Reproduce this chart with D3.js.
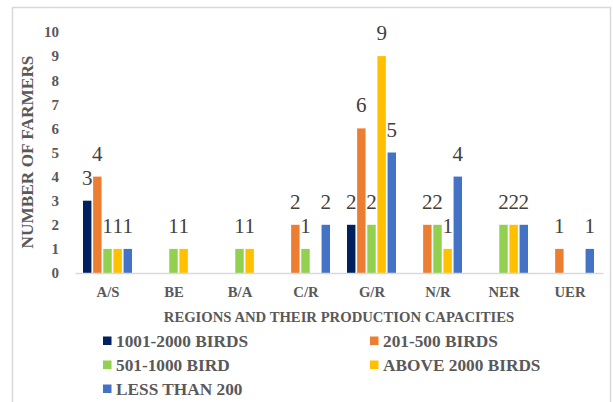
<!DOCTYPE html>
<html>
<head>
<meta charset="utf-8">
<script src="https://cdn.jsdelivr.net/npm/d3@7"></script>
<style>
  html, body { margin: 0; padding: 0; background: #fff; }
  svg { display: block; }
  svg text { font-family: "Liberation Serif", Tinos, "Times New Roman", "DejaVu Serif", "Noto Serif", serif; }
</style>
</head>
<body>
<svg id="chart" width="613" height="402"></svg>
<script>
// Regions (x axis) and production-capacity series
const categories = ["A/S", "BE", "B/A", "C/R", "G/R", "N/R", "NER", "UER"];
const seriesNames = ["1001-2000 BIRDS", "201-500 BIRDS", "501-1000 BIRD", "ABOVE 2000 BIRDS", "LESS THAN 200"];
const seriesColors = ["#002060", "#ED7D31", "#92D050", "#FFC000", "#4472C4"];

// Number of farmers per region; null = no farmers in that band
const birds1001to2000 = [3, null, null, null, 2, null, null, null];
const birds201to500   = [4, null, null, 2, 6, 2, null, 1];
const birds501to1000  = [1, 1, 1, 1, 2, 2, 2, null];
const birdsAbove2000  = [1, 1, 1, null, 9, 1, 2, null];
const birdsUnder200   = [1, null, null, 2, 5, 4, 2, 1];

const yTicks = [0, 1, 2, 3, 4, 5, 6, 7, 8, 9, 10];

const seriesValues = [birds1001to2000, birds201to500, birds501to1000, birdsAbove2000, birdsUnder200];

const svg = d3.select("#chart");

// Outer chart frame
svg.append("rect")
  .attr("x", 12.5).attr("y", 7.5)
  .attr("width", 598).attr("height", 420)
  .attr("fill", "none").attr("stroke", "#d9d9d9").attr("stroke-width", 1.5);

const plot = { left: 75, right: 603, top: 32, bottom: 273 };

const x0 = d3.scaleBand().domain(categories).range([plot.left, plot.right]).padding(0);
const x1 = d3.scaleBand().domain(d3.range(seriesNames.length)).range([8, 57]).paddingInner(0.17).paddingOuter(0);
const y = d3.scaleLinear().domain([0, 10]).range([plot.bottom, plot.top]);

function styleText(sel, size, bold, color) {
  sel.style("font-family", null)
    .attr("font-family", null)
    .attr("font-weight", bold ? "bold" : "normal")
    .attr("font-size", size)
    .attr("fill", color);
}

// Y axis tick labels (no line, no tick marks)
const yAxis = d3.axisLeft(y).tickValues(yTicks).tickSize(0).tickPadding(0).tickFormat(d3.format("d"));
const gy = svg.append("g").attr("transform", `translate(${plot.left - 16},0)`).call(yAxis);
gy.attr("font-family", null);
gy.select(".domain").remove();
styleText(gy.selectAll("text"), "15px", true, "#595959");

// Bars
const groups = svg.append("g").selectAll("g")
  .data(categories)
  .join("g")
  .attr("transform", d => `translate(${x0(d)},0)`);

const cells = groups.selectAll("g.cell")
  .data((c, ci) => seriesValues.map((vals, si) => ({ si, v: vals[ci] })).filter(d => d.v != null))
  .join("g").attr("class", "cell");

cells.append("rect")
  .attr("x", d => x1(d.si))
  .attr("width", x1.bandwidth())
  .attr("y", d => y(d.v))
  .attr("height", d => y(0) - y(d.v))
  .attr("fill", d => seriesColors[d.si]);

// Value labels above each bar
const valueLabels = cells.append("text")
  .attr("x", d => x1(d.si) + x1.bandwidth() / 2)
  .attr("y", d => y(d.v) - 16)
  .attr("text-anchor", "middle")
  .text(d => d.v);
styleText(valueLabels, "21px", false, "#404040");

// X axis baseline and category labels
const xAxis = d3.axisBottom(x0).tickSize(0).tickPadding(0);
const gx = svg.append("g").attr("transform", `translate(0,${plot.bottom})`).call(xAxis);
gx.attr("font-family", null);
gx.select(".domain").attr("stroke", "#d9d9d9").attr("stroke-width", 1.5);
styleText(gx.selectAll("text").attr("dy", 0).attr("y", 24), "14.7px", true, "#595959");

// Axis titles
styleText(svg.append("text")
  .attr("x", (plot.left + plot.right) / 2).attr("y", 322)
  .attr("text-anchor", "middle")
  .text("REGIONS AND THEIR PRODUCTION CAPACITIES"), "14.7px", true, "#595959");

styleText(svg.append("text")
  .attr("transform", "translate(33,152) rotate(-90)")
  .attr("text-anchor", "middle")
  .text("NUMBER OF FARMERS"), "17.3px", true, "#595959");

// Legend: two columns, three rows
const legendCols = [103, 370];
const legendRows = [341, 365, 389];
const legend = svg.append("g").selectAll("g")
  .data(seriesNames)
  .join("g")
  .attr("transform", (d, i) => `translate(${legendCols[i % 2]},${legendRows[Math.floor(i / 2)]})`);

legend.append("rect")
  .attr("x", 0).attr("y", -4.5).attr("width", 8.5).attr("height", 8.5)
  .attr("fill", (d, i) => seriesColors[i]);

styleText(legend.append("text")
  .attr("x", 13).attr("y", 6)
  .text(d => d), "17.3px", true, "#595959");
</script>
</body>
</html>
